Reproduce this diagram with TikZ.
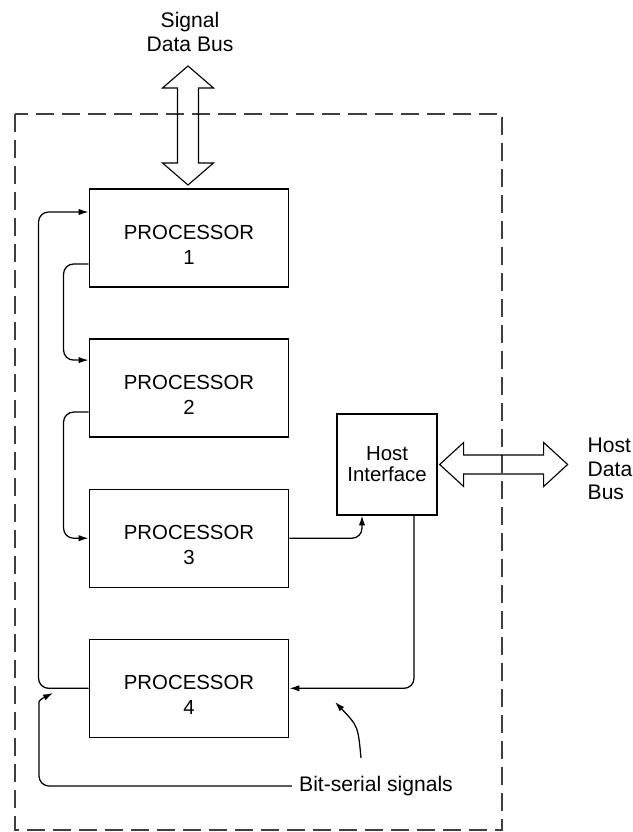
\documentclass[tikz,border=0pt]{standalone}
\usepackage{fontspec}
\setmainfont{Liberation Sans}
\usepackage{tikz}
\usetikzlibrary{positioning,arrows.meta}

\begin{document}
\begin{tikzpicture}[x=0.025cm, y=-0.025cm,
  procbox/.style={draw, line width=0.9pt, minimum width=4.99cm, minimum height=2.45cm,
                  text height=37pt, align=center, font=\fontsize{14.5}{17.5}\selectfont},
  hostbox/.style={draw, line width=0.9pt, minimum width=2.5cm, minimum height=2.52cm,
                  inner sep=1pt, align=center, font=\fontsize{14.5}{15}\selectfont},
  lbl/.style={inner sep=1pt, font=\fontsize{15}{16.5}\selectfont},
  bus/.style={draw, line width=0.8pt, line join=miter},
  arrow/.style={-{Latex[length=7pt,width=4.5pt]}, line width=0.9pt, rounded corners=0.25cm},
  frame/.style={draw=black!75, line width=0.8pt, dash pattern=on 0.45cm off 0.2cm}
]
\useasboundingbox (0,0) rectangle (632,832);

% outer board
\draw[frame] (15,114) rectangle (502,830);

% processors
\node[procbox] (p1) at (189,238) {PROCESSOR\\1};
\node[procbox, below=1.27cm of p1] (p2) {PROCESSOR\\2};
\node[procbox, below=1.27cm of p2] (p3) {PROCESSOR\\3};
\node[procbox, below=1.27cm of p3] (p4) {PROCESSOR\\4};
\node[hostbox] (host) at (387,464.5) {Host\\Interface};

% labels
\node[lbl, align=center] (sigtxt) at (190,32) {Signal\\Data Bus};
\node[lbl, align=left, anchor=west] (hosttxt) at (586,469) {Host\\Data\\Bus};
\node[lbl, inner xsep=5pt] (bits) at (376,786) {Bit-serial signals};

\coordinate (sbtop) at (188,66);
\coordinate (hbleft) at ([xshift=0.05cm]host.east);
\coordinate (fbbend) at (39,712);
\coordinate (fbtip) at (53,693);
\coordinate (ptail) at (361,758);
\coordinate (ptip) at (335,702);

% data buses
\draw[bus] (sbtop) -- ++(25.5,22) -- ++(-15,0) -- ++(0,75) -- ++(15,0) -- ++(-25.5,22)
  -- ++(-25.5,-22) -- ++(15,0) -- ++(0,-75) -- ++(-15,0) -- cycle;
\draw[bus] (hbleft) -- ++(24,-22) -- ++(0,12.5) -- ++(80,0) -- ++(0,-12.5) -- ++(24,22)
  -- ++(-24,22) -- ++(0,-12.5) -- ++(-80,0) -- ++(0,12.5) -- cycle;

% bit-serial links
\draw[arrow] (p4.west) -- ++(-50,0) |- ([yshift=0.65cm]p1.west);
\draw[arrow] ([yshift=-0.65cm]p1.west) -- ++(-25,0) |- ([yshift=0.7cm]p2.west);
\draw[arrow] ([yshift=-0.6cm]p2.west) -- ++(-25,0) |- (p3.west);
\draw[arrow] (p3.east) -| ([xshift=-0.625cm]host.south);
\draw[arrow] ([xshift=0.675cm]host.south) |- (p4.east);
\draw[arrow] (bits.west) -| (fbbend) .. controls +(0,-12) and +(-8,4) .. (fbtip);
\draw[arrow] (ptail) .. controls (358,726) .. (ptip);

\end{tikzpicture}
\end{document}
